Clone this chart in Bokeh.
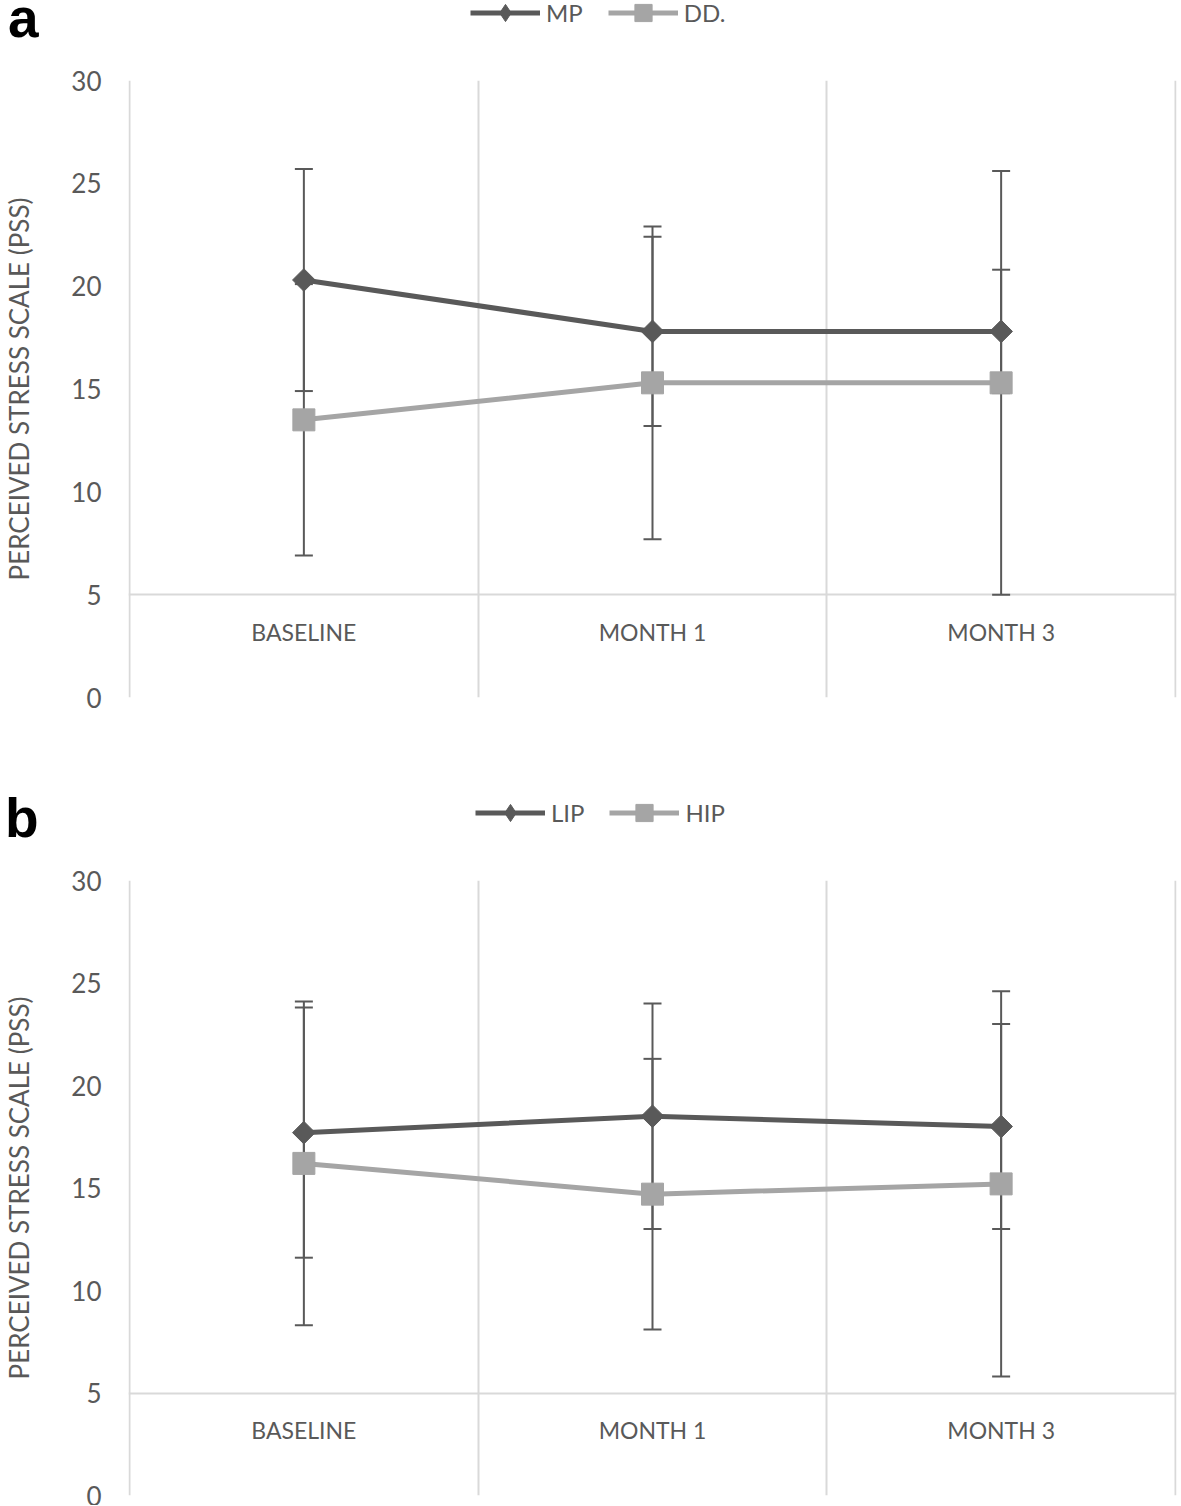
from bokeh.plotting import figure
from bokeh.layouts import column
from bokeh.models import (Range1d, FixedTicker, Grid, ColumnDataSource, Legend,
                          LegendItem, Whisker, TeeHead)
from bokeh.core.properties import value
from bokeh.embed import file_html
from bokeh.resources import INLINE

categories = ["BASELINE", "MONTH 1", "MONTH 3"]
y_ticks = [0, 5, 10, 15, 20, 25, 30]
cat_x = [0.5, 1.5, 2.5]

# Panel a
a_names = ["MP", "DD."]
mp_mean = [20.3, 17.8, 17.8]
mp_err = [5.4, 4.6, 3.0]
dd_mean = [13.5, 15.3, 15.3]
dd_err = [6.6, 7.6, 10.3]

# Panel b
b_names = ["LIP", "HIP"]
lip_mean = [17.7, 18.5, 18.0]
lip_err = [6.1, 5.5, 5.0]
hip_mean = [16.2, 14.7, 15.2]
hip_err = [7.9, 6.6, 9.4]

DARK = "#595959"
LIGHT = "#a5a5a5"
GRID = "#d9d9d9"
FONT = "Lato"
COLORS = [DARK, LIGHT]
W = 1181
LEFT = 128
RIGHT = 5
NAN = float("nan")


def make_header(letter, names, height, letter_mid, legend_mid, legend_left):
    """Panel letter (as the left-border label) and the series legend."""
    h = figure(width=W, height=height, x_range=Range1d(0, W - LEFT - RIGHT),
               y_range=Range1d(0, height), output_backend="svg", toolbar_location=None,
               x_axis_location=None, y_axis_location="left",
               min_border_left=LEFT, min_border_right=RIGHT, min_border_top=0,
               min_border_bottom=0, outline_line_color=None)
    h.center = [r for r in h.center if not isinstance(r, Grid)]
    ax = h.yaxis[0]
    tick = height - letter_mid
    ax.ticker = FixedTicker(ticks=[tick])
    ax.major_label_overrides = {tick: letter}
    ax.axis_line_color = None
    ax.major_tick_line_color = None
    ax.minor_tick_line_color = None
    ax.major_tick_out = 0
    ax.major_tick_in = 0
    ax.major_label_standoff = 90
    ax.major_label_text_font = "Liberation Sans"
    ax.major_label_text_font_size = "55px"
    ax.major_label_text_font_style = "bold"
    ax.major_label_text_color = "black"

    items = []
    for k, nm in enumerate(names):
        blank = ColumnDataSource(dict(x=[NAN], y=[NAN]))
        lr = h.line("x", "y", source=blank, line_color=COLORS[k], line_width=5)
        mr = h.scatter("x", "y", source=blank, marker="diamond" if k == 0 else "square",
                       size=17, fill_color=COLORS[k], line_color=COLORS[k])
        items.append(LegendItem(label=nm, renderers=[lr, mr]))
    gh = 43
    leg = Legend(items=items, orientation="horizontal", glyph_width=70, glyph_height=gh,
                 label_text_font=FONT, label_text_font_size="24px", label_text_color=DARK,
                 label_text_baseline="middle",
                 background_fill_alpha=0, border_line_color=None, padding=0, margin=0,
                 spacing=25, label_standoff=6,
                 location=(legend_left - LEFT, height - legend_mid - gh / 2))
    h.add_layout(leg)
    return h


def make_panel(names, means, errs, height, top, bottom):
    p = figure(width=W, height=height, x_range=Range1d(-0.003, 3.003),
               y_range=Range1d(0, 30), output_backend="svg", toolbar_location=None,
               x_axis_location=None, min_border_left=LEFT, min_border_right=RIGHT,
               min_border_top=top, min_border_bottom=bottom, outline_line_color=None,
               background_fill_color="white", border_fill_color="white")
    # vertical grid only at the category boundaries, horizontal line at 5
    p.center = [r for r in p.center if not (isinstance(r, Grid) and r.dimension == 0)]
    p.ygrid.ticker = FixedTicker(ticks=[5])
    p.ygrid.grid_line_color = GRID
    p.ygrid.grid_line_width = 2
    p.add_layout(Grid(dimension=0, ticker=FixedTicker(ticks=[0, 1, 2, 3]),
                      grid_line_color=GRID, grid_line_width=2))
    ax = p.yaxis[0]
    ax.ticker = FixedTicker(ticks=y_ticks)
    ax.axis_line_color = None
    ax.major_tick_line_color = None
    ax.minor_tick_line_color = None
    ax.major_tick_out = 0
    ax.major_tick_in = 0
    ax.major_label_standoff = 27
    ax.major_label_text_font = FONT
    ax.major_label_text_font_size = "26px"
    ax.major_label_text_color = DARK
    ax.axis_label = "PERCEIVED STRESS SCALE (PSS)"
    ax.axis_label_text_font = FONT
    ax.axis_label_text_font_size = "26px"
    ax.axis_label_text_font_style = "normal"
    ax.axis_label_text_color = DARK
    ax.axis_label_standoff = 33

    for k, (nm, m, e) in enumerate(zip(names, means, errs)):
        src = ColumnDataSource(dict(x=cat_x, y=m,
                                    upper=[a + b for a, b in zip(m, e)],
                                    lower=[a - b for a, b in zip(m, e)]))
        p.add_layout(Whisker(source=src, base="x", upper="upper", lower="lower",
                             line_color=DARK, line_width=2, level="underlay",
                             upper_head=TeeHead(size=18, line_color=DARK, line_width=2),
                             lower_head=TeeHead(size=18, line_color=DARK, line_width=2)))
    for k, (nm, m, e) in enumerate(zip(names, means, errs)):
        src = ColumnDataSource(dict(x=cat_x, y=m))
        p.line("x", "y", source=src, line_color=COLORS[k], line_width=5)
        if k == 0:
            p.scatter("x", "y", source=src, marker="square", size=16, angle=0.785398,
                      fill_color=COLORS[k], line_color=COLORS[k])
        else:
            p.scatter("x", "y", source=src, marker="square", size=22,
                      fill_color=COLORS[k], line_color=COLORS[k])

    p.text(x=cat_x, y=[5] * 3, text=categories, y_offset=37,
           text_align="center", text_baseline="middle",
           text_font=value(FONT), text_font_size="23px", text_color=DARK)
    return p


ha = make_header("a", a_names, 62, 45, 12, 470)
pa = make_panel(a_names, [mp_mean, dd_mean], [mp_err, dd_err], 728, 18, 93)
hb = make_header("b", b_names, 67, 45, 22, 475)
pb = make_panel(b_names, [lip_mean, hip_mean], [lip_err, hip_err], 648, 23, 10)

layout = column(ha, pa, hb, pb, spacing=0)
open("out.html", "w").write(file_html(layout, INLINE))
